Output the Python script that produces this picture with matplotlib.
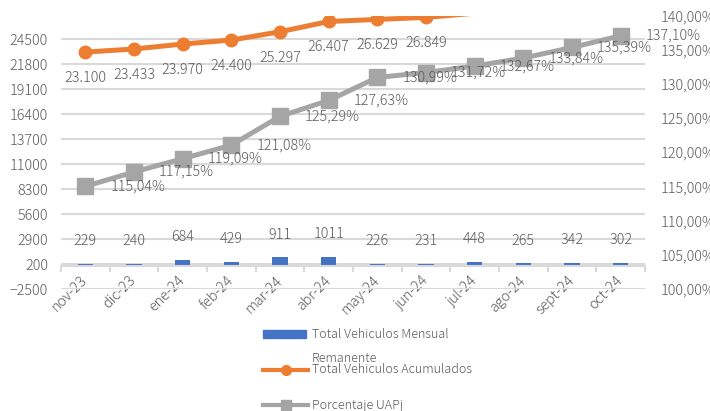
import matplotlib
matplotlib.use('Agg')
import matplotlib.pyplot as plt
from matplotlib.lines import Line2D
from matplotlib.patches import Rectangle
from matplotlib.ticker import FuncFormatter

months = ['nov-23', 'dic-23', 'ene-24', 'feb-24', 'mar-24', 'abr-24',
          'may-24', 'jun-24', 'jul-24', 'ago-24', 'sept-24', 'oct-24']
mensual = [229, 240, 684, 429, 911, 1011, 226, 231, 448, 265, 342, 302]
acumulados = [23100, 23433, 23970, 24400, 25297, 26407, 26629, 26849,
              27297, 27562, 27904, 28206]
porcentaje = [115.04, 117.15, 119.09, 121.08, 125.29, 127.63, 130.99,
              131.72, 132.67, 133.84, 135.39, 137.10]
left_ticks = [-2500, 200, 2900, 5600, 8300, 11000, 13700, 16400, 19100, 21800, 24500]
right_ticks = [100, 105, 110, 115, 120, 125, 130, 135, 140]
LEFT_MIN, LEFT_MAX = -2500, 27000
RIGHT_MIN, RIGHT_MAX = 100, 140

BLUE = '#4472C4'
ORANGE = '#ED7D31'
GRAY = '#A5A5A5'
TXT = '#595959'
GRID = '#D9D9D9'

plt.rcParams['font.family'] = ['Noto Sans CJK JP', 'DejaVu Sans']
plt.rcParams['font.weight'] = 'light'
FS = 10.3

W, H = 710, 411
fig = plt.figure(figsize=(W / 100, H / 100), dpi=100)
ax = fig.add_axes([61 / W, 1 - 289 / H, (645 - 61) / W, (289 - 16) / H])
ax2 = ax.twinx()

x = list(range(len(months)))
ax.set_xlim(-0.5, len(months) - 0.5)
ax.set_ylim(LEFT_MIN, LEFT_MAX)
ax2.set_ylim(RIGHT_MIN, RIGHT_MAX)

# left axis / grid
ax.set_yticks(left_ticks)
ax.grid(axis='y', color=GRID, lw=1.5)
ax.set_axisbelow(True)
for s in ['top', 'left', 'right']:
    ax.spines[s].set_visible(False)
ax.spines['bottom'].set_position(('data', 0))
ax.spines['bottom'].set_color(GRID)
ax.spines['bottom'].set_linewidth(1.5)
for s in ax2.spines.values():
    s.set_visible(False)
ax.tick_params(axis='y', length=0, pad=9.4, labelsize=FS, labelcolor=TXT)

ax.set_xticks(x)
ax.set_xticklabels(months, rotation=45, ha='right', va='center', rotation_mode='anchor')
ax.set_xticks([i - 0.5 for i in range(len(months) + 1)], minor=True)
ax.tick_params(axis='x', which='major', length=0, pad=9, labelsize=FS, labelcolor=TXT)
ax.tick_params(axis='x', which='minor', length=4, color=GRID, width=1.5)

ax2.set_yticks(right_ticks)
ax2.yaxis.set_major_formatter(FuncFormatter(lambda v, p: f"{v:.2f}%".replace('.', ',')))
ax2.tick_params(axis='y', length=0, pad=11, labelsize=FS, labelcolor=TXT)

# series
ax.bar(x, mensual, width=0.31, color=BLUE, zorder=2)
visible = [i for i, v in zip(x, acumulados) if v <= LEFT_MAX]
ax.plot(x, acumulados, color=ORANGE, lw=3.6, marker='o', ms=9, zorder=3,
        markevery=visible)
ax2.plot(x, porcentaje, color=GRAY, lw=3.6, marker='s', ms=12, zorder=3)

# data labels
for i, v in zip(x, mensual):
    ax.annotate(f"{v}", (i, v), xytext=(0, 16.3), textcoords='offset points',
                ha='center', va='center', fontsize=FS, color=TXT)
for i, v in zip(x, acumulados):
    if v <= LEFT_MAX:
        ax.annotate(f"{v:,}".replace(',', '.'), (i, v), xytext=(0, -18.7),
                    textcoords='offset points', ha='center', va='center',
                    fontsize=FS, color=TXT)
for i, v in zip(x, porcentaje):
    ax2.annotate(f"{v:.2f}%".replace('.', ','), (i, v), xytext=(18, 0),
                 textcoords='offset points', ha='left', va='center',
                 fontsize=FS, color=TXT)

# manual legend
def fx(px):
    return px / W

def fy(py):
    return 1 - py / H

fig.add_artist(Rectangle((fx(263), fy(338)), fx(306) - fx(263), (338 - 330) / H,
                         transform=fig.transFigure, color=BLUE))
fig.add_artist(Line2D([fx(263), fx(308)], [fy(370), fy(370)], transform=fig.transFigure,
                      color=ORANGE, lw=3))
fig.add_artist(Line2D([fx(285.5)], [fy(370)], transform=fig.transFigure,
                      color=ORANGE, marker='o', ms=7))
fig.add_artist(Line2D([fx(263), fx(308)], [fy(405), fy(405)], transform=fig.transFigure,
                      color=GRAY, lw=3))
fig.add_artist(Line2D([fx(285.5)], [fy(405)], transform=fig.transFigure,
                      color=GRAY, marker='s', ms=6.5))
LFS = 9
fig.text(fx(312), fy(334), 'Total Vehiculos Mensual', ha='left', va='center', fontsize=LFS, color=TXT)
fig.text(fx(312), fy(358), 'Remanente', ha='left', va='center', fontsize=LFS, color=TXT)
fig.text(fx(312), fy(369), 'Total Vehiculos Acumulados', ha='left', va='center', fontsize=LFS, color=TXT)
fig.text(fx(312), fy(405), 'Porcentaje UAPj', ha='left', va='center', fontsize=LFS, color=TXT)

fig.savefig('out.png', dpi=100)
